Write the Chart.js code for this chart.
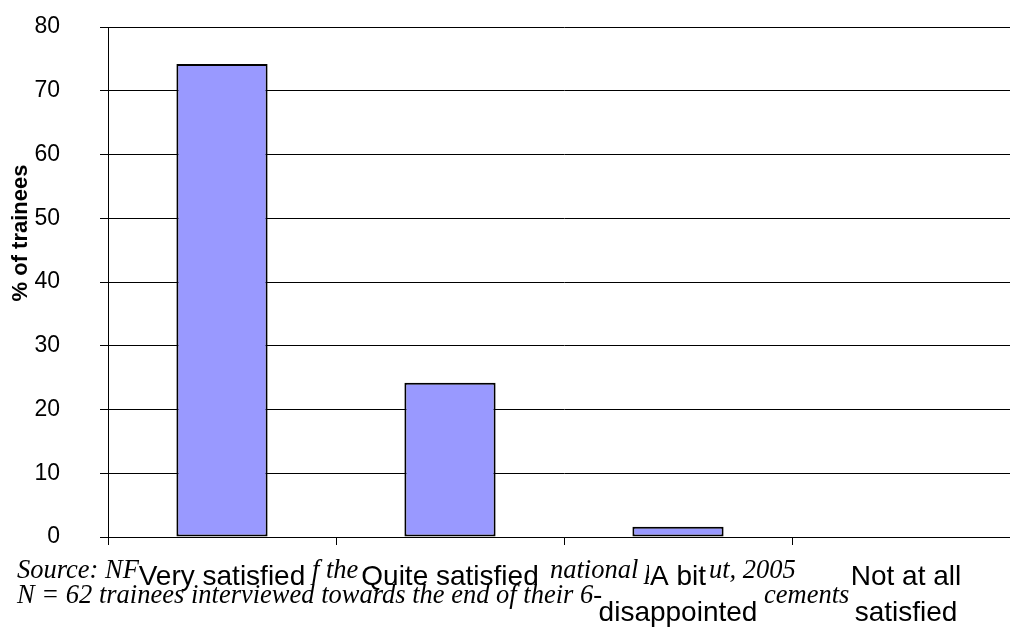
<!DOCTYPE html>
<html>
<head>
<meta charset="utf-8">
<script src="https://cdn.jsdelivr.net/npm/chart.js@4.4.1/dist/chart.umd.min.js"></script>
<style>
  html, body { margin: 0; padding: 0; overflow: hidden; background: #fff; width: 1010px; height: 628px; }
  canvas { display: block; }
</style>
</head>
<body>
<canvas id="c" width="1030" height="628"></canvas>
<script>
// Satisfaction of trainees with their placement
const categories = [["Very satisfied"], ["Quite satisfied"], ["A bit", "disappointed"], ["Not at all", "satisfied"]];
const shareOfTrainees = [74.2, 24.2, 1.6, 0];
const yTickValues = [0, 10, 20, 30, 40, 50, 60, 70, 80];
const yAxisTitle = "% of trainees";
const sourceLine1 = ["Source: NF", "f the", "national p", "ut, 2005"];
const sourceLine2 = ["N = 62 trainees interviewed towards the end of their 6-", "cements"];

const SANS = "'Liberation Sans', Arial, sans-serif";
const SERIF = "'Liberation Serif', 'Times New Roman', serif";

// Rotated y-axis title and the italic source note below the axis
const extrasPlugin = {
  id: 'extras',
  afterDraw(chart) {
    const ctx = chart.ctx;
    ctx.save();
    ctx.fillStyle = '#000';
    ctx.font = "bold 22px " + SANS;
    ctx.textAlign = 'center';
    ctx.textBaseline = 'middle';
    ctx.translate(21, 233);
    ctx.rotate(-Math.PI / 2);
    ctx.fillText(yAxisTitle, 0, 0);
    ctx.restore();

    ctx.save();
    ctx.fillStyle = '#000';
    ctx.font = "italic 26.5px " + SERIF;
    ctx.textAlign = 'left';
    ctx.textBaseline = 'alphabetic';
    const x1 = [17, 312, 550, 709];
    sourceLine1.forEach((t, i) => {
      ctx.save();
      if (i === 2) { ctx.beginPath(); ctx.rect(0, 540, 649, 88); ctx.clip(); }
      ctx.fillText(t, x1[i], 578);
      ctx.restore();
    });
    const x2 = [17, 764];
    sourceLine2.forEach((t, i) => ctx.fillText(t, x2[i], 603));
    ctx.restore();
  }
};

new Chart(document.getElementById('c'), {
  type: 'bar',
  data: {
    labels: categories,
    datasets: [{
      data: shareOfTrainees,
      backgroundColor: '#9999FF',
      borderColor: '#000',
      borderWidth: 2,
      borderSkipped: false,
      categoryPercentage: 1,
      barPercentage: 0.4
    }]
  },
  options: {
    responsive: false,
    animation: false,
    devicePixelRatio: 1,
    layout: { padding: { top: 27, right: 10, left: 0, bottom: 0 } },
    plugins: { legend: { display: false }, tooltip: { enabled: false } },
    scales: {
      x: {
        offset: true,
        grid: { offset: true, drawOnChartArea: false, drawTicks: true, tickLength: 8, color: '#000', lineWidth: 1 },
        border: { display: true, color: '#000', width: 1 },
        ticks: {
          color: '#000',
          font: { family: SANS, size: 28, lineHeight: 1.3 },
          padding: 14,
          maxRotation: 0,
          autoSkip: false
        },
        afterFit(s) { s.height = 91; }
      },
      y: {
        min: 0,
        max: 80,
        afterBuildTicks(s) { s.ticks = yTickValues.map(v => ({ value: v })); },
        grid: { color: '#000', lineWidth: 1, drawTicks: true, tickLength: 8 },
        border: { display: true, color: '#000', width: 1 },
        ticks: {
          color: '#000',
          font: { family: SANS, size: 23 },
          padding: 40
        },
        afterFit(s) { s.width = 108; s.paddingTop = 0; s.paddingBottom = 0; }
      }
    }
  },
  plugins: [extrasPlugin]
});
</script>
</body>
</html>
